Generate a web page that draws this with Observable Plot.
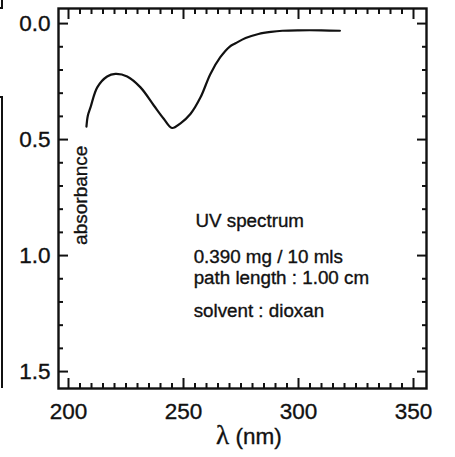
<!DOCTYPE html>
<html>
<head>
<meta charset="utf-8">
<script src="https://cdn.jsdelivr.net/npm/d3@7"></script>
<script src="https://cdn.jsdelivr.net/npm/@observablehq/plot@0.6"></script>
<style>
  html, body { margin: 0; padding: 0; background: #fff; }
  #wrap { position: relative; width: 455px; height: 457px; overflow: hidden; }
  .edge { position: absolute; background: #111; }
  #wrap svg text { stroke: #111; stroke-width: 0.35px; }
</style>
</head>
<body>
<div id="wrap">
  <div class="edge" style="left:1px;top:0;width:2px;height:9px"></div>
  <div class="edge" style="left:0;top:7px;width:3px;height:2px"></div>
  <div class="edge" style="left:0;top:96px;width:3px;height:2px"></div>
  <div class="edge" style="left:1px;top:96px;width:2px;height:292px"></div>
</div>
<script>
// Spectrum
const wavelength = [207.8, 208.4, 209.6, 212.5, 216.8, 220.4, 225.5, 231.3, 237.1, 241.4, 245, 248.7, 253, 257.4, 261.7, 266, 270, 272.6, 277, 282.6, 288, 293, 300, 310, 318];
const absorbance = [0.444, 0.397, 0.36, 0.275, 0.228, 0.217, 0.228, 0.275, 0.353, 0.41, 0.45, 0.43, 0.39, 0.318, 0.217, 0.145, 0.10, 0.085, 0.062, 0.045, 0.036, 0.031, 0.029, 0.029, 0.031];

const xMajor = [200, 250, 300, 350];
const xMinor = d3.range(205, 350, 5).filter(v => v % 50 !== 0);
const yMajor = [0, 0.5, 1.0, 1.5];
const yMinor = d3.range(1, 15).map(i => i / 10).filter(v => Math.abs(v - 0.5) > 1e-9 && Math.abs(v - 1.0) > 1e-9);

const noteText = ["UV spectrum", "0.390 mg / 10 mls", "path length : 1.00 cm", "solvent : dioxan"];
const noteX = [255.2, 254.4, 254.4, 254.4];
const noteY = [0.875, 1.03, 1.121, 1.263];

const series = wavelength.map((w, i) => ({w, a: absorbance[i]}));
const notes = noteText.map((t, i) => ({t, x: noteX[i], y: noteY[i]}));

const font = "'Liberation Sans', Arial, Helvetica, sans-serif";

const chart = Plot.plot({
  width: 455,
  height: 457,
  marginLeft: 58,
  marginRight: 29,
  marginTop: 8,
  marginBottom: 69,
  style: {fontFamily: font, color: "#111", background: "transparent"},
  x: {domain: [195.65, 355.65]},
  y: {domain: [-0.065, 1.573], reverse: true},
  marks: [
    // inward tick marks
    Plot.axisX({anchor: "bottom", ticks: xMajor, tickSize: -10, text: null, strokeWidth: 2}),
    Plot.axisX({anchor: "bottom", ticks: xMinor, tickSize: -5, text: null, strokeWidth: 2}),
    Plot.axisX({anchor: "top", ticks: xMajor, tickSize: -10, text: null, strokeWidth: 2, label: null}),
    Plot.axisX({anchor: "top", ticks: xMinor, tickSize: -5, text: null, strokeWidth: 2, label: null}),
    Plot.axisY({anchor: "left", ticks: yMajor, tickSize: -10, text: null, strokeWidth: 2, label: null}),
    Plot.axisY({anchor: "left", ticks: yMinor, tickSize: -5, text: null, strokeWidth: 2, label: null}),
    Plot.axisY({anchor: "right", ticks: yMajor, tickSize: -10, text: null, strokeWidth: 2, label: null}),
    Plot.axisY({anchor: "right", ticks: yMinor, tickSize: -5, text: null, strokeWidth: 2, label: null}),
    // tick labels
    Plot.axisX({anchor: "bottom", ticks: xMajor, tickSize: 0, tickPadding: 15, fontSize: 22.5, label: null, tickFormat: d3.format("d")}),
    Plot.axisY({anchor: "left", ticks: yMajor, tickSize: 0, tickPadding: 8, fontSize: 22.5, label: null, tickFormat: d3.format(".1f")}),
    Plot.frame({stroke: "#111", strokeWidth: 2.4}),
    // spectrum
    Plot.line(series, {x: "w", y: "a", curve: "catmull-rom", stroke: "#111", strokeWidth: 2.2}),
    // y label inside the plot
    Plot.text(["absorbance"], {x: 205.5, y: 0.74, text: d => d, rotate: -90, fontSize: 19, fill: "#111"}),
    // annotations
    Plot.text(notes, {x: "x", y: "y", text: "t", textAnchor: "start", lineAnchor: "bottom", fontSize: 18.8, fill: "#111"}),
    // x axis label
    Plot.text(["λ"], {frameAnchor: "bottom", text: d => d, dx: -20, dy: 55, lineAnchor: "bottom", fontSize: 27, fontFamily: "'Liberation Serif', 'DejaVu Serif', serif", fill: "#111"}),
    Plot.text(["(nm)"], {frameAnchor: "bottom", text: d => d, dx: -7, dy: 55, textAnchor: "start", lineAnchor: "bottom", fontSize: 22.5, fill: "#111"})
  ]
});

document.getElementById("wrap").appendChild(chart);
chart.style.position = "absolute";
chart.style.left = "0";
chart.style.top = "0";
</script>
</body>
</html>
